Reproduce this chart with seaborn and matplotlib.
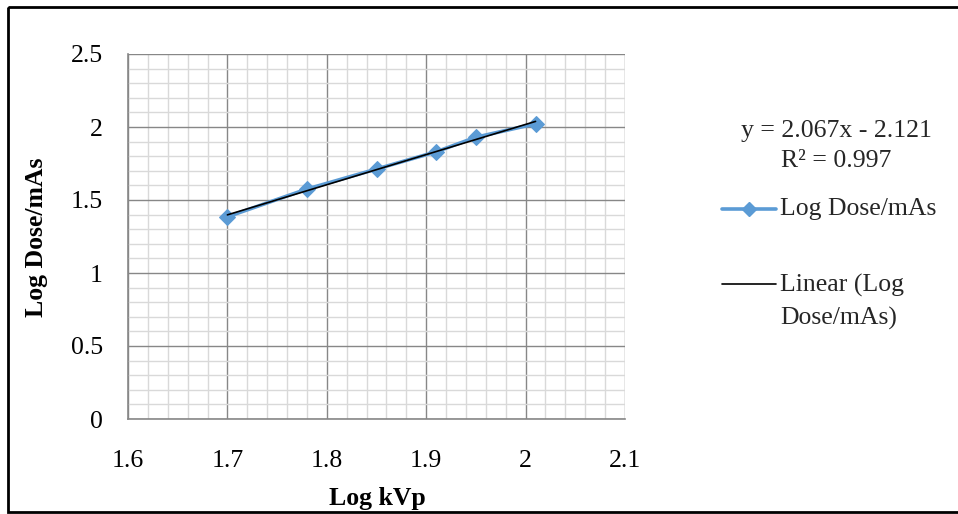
import numpy as np
import pandas as pd
import matplotlib
matplotlib.use("Agg")
import matplotlib.pyplot as plt
from matplotlib.ticker import MultipleLocator
from matplotlib.lines import Line2D
from matplotlib.patches import Rectangle
import seaborn as sns

# ---- data ----
log_kvp = [1.70, 1.78, 1.85, 1.91, 1.95, 2.01]
log_dose_mas = [1.385, 1.575, 1.712, 1.830, 1.930, 2.022]
series_label = "Log Dose/mAs"
trend_label = ["Linear (Log", "Dose/mAs)"]
equation_text = ["y = 2.067x - 2.121", "R² = 0.997"]
x_ticks = [1.6, 1.7, 1.8, 1.9, 2.0, 2.1]
y_ticks = [0, 0.5, 1, 1.5, 2, 2.5]
x_title = "Log kVp"
y_title = "Log Dose/mAs"

df = pd.DataFrame({"x": log_kvp, "y": log_dose_mas})

sns.set_theme(style="white")
plt.rcParams["font.family"] = ["Liberation Serif", "DejaVu Serif"]
plt.rcParams["mathtext.fontset"] = "stix"

W, H = 958, 514
fig = plt.figure(figsize=(W / 100, H / 100), dpi=100)
fig.patch.set_facecolor("white")

BLUE = "#5B9BD5"
MAJ = "#878787"
MIN = "#D9D9D9"
FS = 18.5

ax = fig.add_axes([128 / W, 1 - 419 / H, 497 / W, 365 / H])
ax.set_xlim(1.6, 2.1)
ax.set_ylim(0, 2.5)
ax.xaxis.set_major_locator(MultipleLocator(0.1))
ax.xaxis.set_minor_locator(MultipleLocator(0.02))
ax.yaxis.set_major_locator(MultipleLocator(0.5))
ax.yaxis.set_minor_locator(MultipleLocator(0.1))
ax.grid(which="major", color=MAJ, lw=1.0, zorder=0)
ax.grid(which="minor", color=MIN, lw=1.0, zorder=0)
ax.set_axisbelow(True)
for s in ["top", "right"]:
    ax.spines[s].set_visible(False)
for s in ["left", "bottom"]:
    ax.spines[s].set_color(MAJ)
    ax.spines[s].set_linewidth(1.2)

sns.lineplot(data=df, x="x", y="y", ax=ax, color=BLUE, lw=2.6,
             marker="D", markersize=8, markeredgecolor=BLUE, zorder=3,
             legend=False)
sns.regplot(data=df, x="x", y="y", ax=ax, scatter=False, ci=None,
            color="black", line_kws={"lw": 1.2, "zorder": 4})

ax.set_xticks(x_ticks)
ax.set_xticklabels(["1.6", "1.7", "1.8", "1.9", "2", "2.1"])
ax.set_yticks(y_ticks)
ax.set_yticklabels(["0", "0.5", "1", "1.5", "2", "2.5"])
ax.tick_params(axis="both", which="major", direction="out", length=6,
               width=1, color=MAJ, labelsize=FS, labelcolor="black")
ax.tick_params(axis="x", which="major", pad=16)
ax.tick_params(axis="y", which="major", pad=12)
ax.tick_params(which="minor", length=0)

ax.set_xlabel(x_title, fontsize=FS, fontweight="bold", color="black")
ax.set_ylabel(y_title, fontsize=FS, fontweight="bold", color="black")
ax.xaxis.set_label_coords((377 - 128) / 497, (419 - 498) / 365)
ax.xaxis.label.set_va("center")
ax.yaxis.set_label_coords((37 - 128) / 497, (419 - 237) / 365)
ax.yaxis.label.set_va("center")

# overlay in pixel coordinates for border, equation and legend
ov = fig.add_axes([0, 0, 1, 1], facecolor="none")
ov.set_xlim(0, W)
ov.set_ylim(H, 0)
ov.axis("off")
ov.add_patch(Rectangle((8.5, 6.5), 960, 505, fill=False, ec="black", lw=2.0))

ov.text(836, 131, equation_text[0], fontsize=FS, ha="center", va="center")
ov.text(836, 161, equation_text[1], fontsize=FS, ha="center", va="center")

ov.add_line(Line2D([722, 776], [209, 209], color=BLUE, lw=2.6))
ov.add_line(Line2D([749], [209], color=BLUE, marker="D", markersize=7, lw=0))
ov.text(780, 209, series_label, fontsize=FS, ha="left", va="center")

ov.add_line(Line2D([722, 776], [284, 284], color="black", lw=1.2))
ov.text(780, 285, trend_label[0], fontsize=FS, ha="left", va="center")
ov.text(780, 318, trend_label[1], fontsize=FS, ha="left", va="center")

fig.savefig("out.png", dpi=100)
